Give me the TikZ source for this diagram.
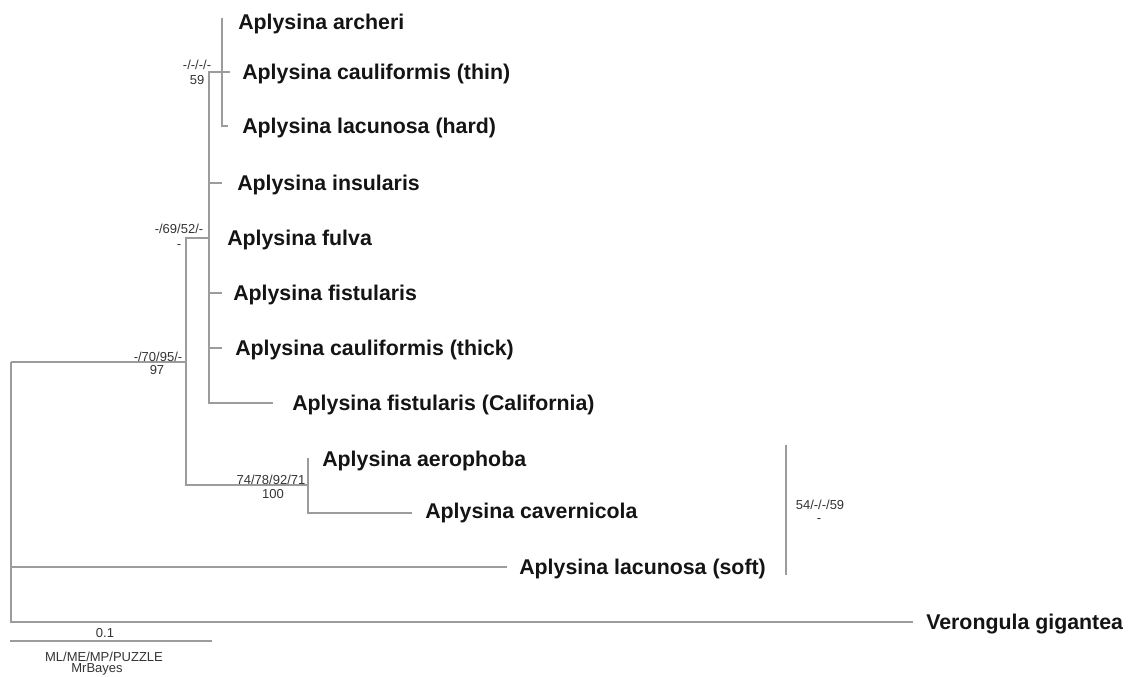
\documentclass[tikz,border=0pt]{standalone}
\usepackage{fontspec}
\setmainfont{Liberation Sans}
\definecolor{branch}{HTML}{9C9C9C}
\definecolor{ink}{HTML}{141414}
\definecolor{suppink}{HTML}{333333}
\tikzset{
  br/.style={draw=branch, line width=0.9pt},
  taxon/.style={anchor=base west, inner sep=0pt, font=\bfseries\fontsize{16}{18}\selectfont, text=ink},
  supp/.style={anchor=base, inner sep=0pt, font=\fontsize{9.75}{11}\selectfont, text=suppink},
}
\begin{document}
\begin{tikzpicture}[x=0.75pt,y=-0.75pt]
\useasboundingbox (0,0) rectangle (1131,677);

% internal nodes
\coordinate (root) at (11,362);
\coordinate (nA) at (186,362);
\coordinate (nB) at (209,238);
\coordinate (nC) at (222,72);
\coordinate (nD) at (308,485);

% tips
\coordinate (tArch) at (222,18);
\coordinate (tThin) at (230,72);
\coordinate (tHard) at (228,126);
\coordinate (tIns) at (222,183);
\coordinate (tFulva) at (209,238);
\coordinate (tFis) at (222,293);
\coordinate (tThick) at (222,348);
\coordinate (tCal) at (273,403);
\coordinate (tAero) at (308,458);
\coordinate (tCav) at (412,513);
\coordinate (tSoft) at (507,567);
\coordinate (tVer) at (913,622);

% branches
\draw[br] (root) |- (nA);
\draw[br] (root) |- (tSoft);
\draw[br] (root) |- (tVer);
\draw[br] (nA) |- (nB);
\draw[br] (nA) |- (nD);
\draw[br] (nB) |- (nC);
\draw[br] (nB) |- (tIns);
\draw[br] (nB) |- (tFis);
\draw[br] (nB) |- (tThick);
\draw[br] (nB) |- (tCal);
\draw[br] (nC) |- (tArch);
\draw[br] (nC) |- (tThin);
\draw[br] (nC) |- (tHard);
\draw[br] (nD) |- (tAero);
\draw[br] (nD) |- (tCav);

% taxon labels
\node[taxon] (lArch) at (238,29.6) {Aplysina archeri};
\node[taxon] (lThin) at (242,79.6) {Aplysina cauliformis (thin)};
\node[taxon] (lHard) at (242,133.6) {Aplysina lacunosa (hard)};
\node[taxon] (lIns) at (237,190.6) {Aplysina insularis};
\node[taxon] (lFulva) at (227,245.6) {Aplysina fulva};
\node[taxon] (lFis) at (233,300.6) {Aplysina fistularis};
\node[taxon] (lThick) at (235,355.6) {Aplysina cauliformis (thick)};
\node[taxon] (lCal) at (292,410.6) {Aplysina fistularis (California)};
\node[taxon] (lAero) at (322,466.6) {Aplysina aerophoba};
\node[taxon] (lCav) at (425,518.6) {Aplysina cavernicola};
\node[taxon] (lSoft) at (519,574.6) {Aplysina lacunosa (soft)};
\node[taxon] (lVer) at (926,629.6) {Verongula gigantea};

% support values
\node[supp] (sC1) at (197,69.5) {-/-/-/-};
\node[supp] (sC2) at (197,84.6) {59};
\node[supp] (sB1) at (179,233.5) {-/69/52/-};
\node[supp] (sB2) at (179,248.5) {-};
\node[supp] (sA1) at (158,361) {-/70/95/-};
\node[supp] (sA2) at (157,374.7) {97};
\node[supp] (sD1) at (271,484) {74/78/92/71};
\node[supp] (sD2) at (273,498) {100};
\node[supp] (sE1) at (820,509.7) {54/-/-/59};
\node[supp] (sE2) at (819,522.5) {-};

% bracket
\coordinate (bTop) at (786,445);
\coordinate (bBot) at (786,575);
\draw[br] (bTop) -- (bBot);

% scale bar
\coordinate (sbL) at (10,641);
\coordinate (sbR) at (212,641);
\draw[br] (sbL) -- (sbR);
\node[supp] (sbLab) at (105,637) {0.1};
\node[supp] (meth1) at (104,661) {ML/ME/MP/PUZZLE};
\node[supp] (meth2) at (97,672) {MrBayes};
\end{tikzpicture}
\end{document}
